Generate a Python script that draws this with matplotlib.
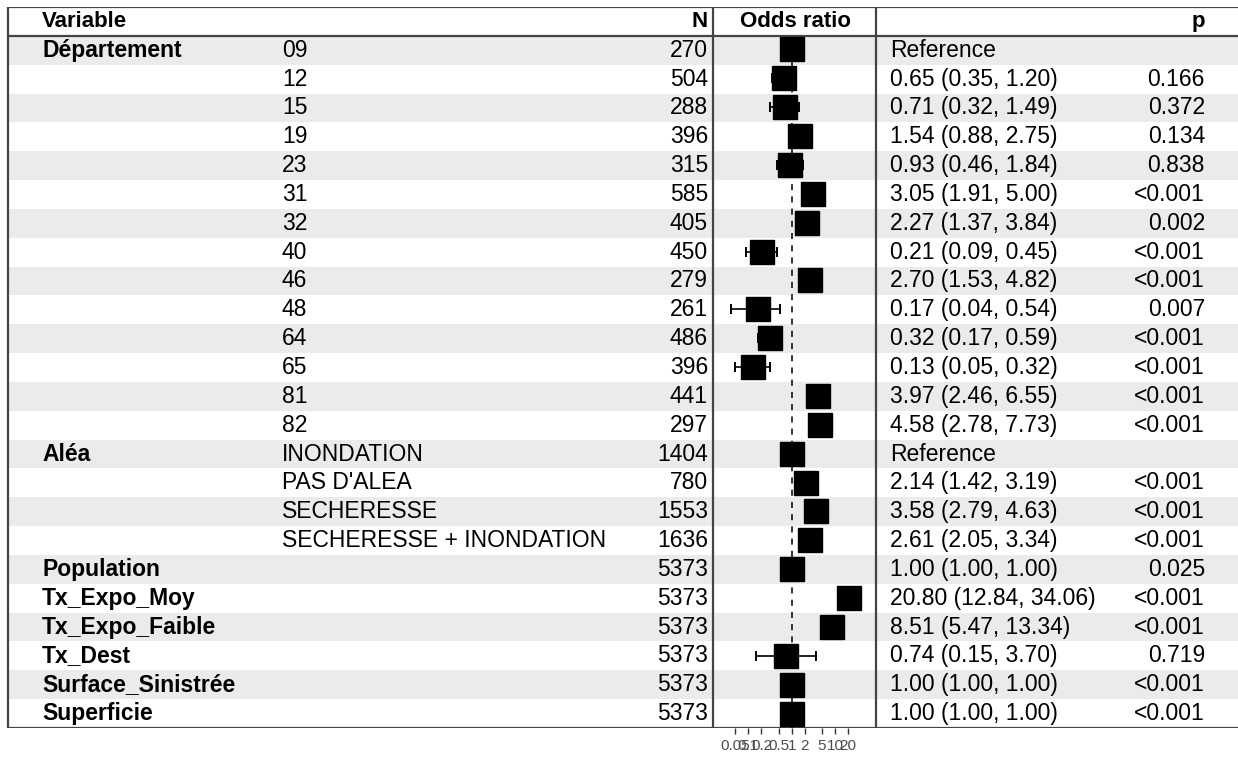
import matplotlib
matplotlib.use("Agg")
import matplotlib.pyplot as plt
import numpy as np

plt.rcParams["font.family"] = ["Liberation Sans", "DejaVu Sans"]

# data
variables = ["Département"] + [""] * 13 + ["Aléa", "", "", "",
             "Population", "Tx_Expo_Moy", "Tx_Expo_Faible", "Tx_Dest",
             "Surface_Sinistrée", "Superficie"]
levels = ["09", "12", "15", "19", "23", "31", "32", "40", "46", "48", "64", "65", "81", "82",
          "INONDATION", "PAS D'ALEA", "SECHERESSE", "SECHERESSE + INONDATION",
          "", "", "", "", "", ""]
n_obs = [270, 504, 288, 396, 315, 585, 405, 450, 279, 261, 486, 396, 441, 297,
         1404, 780, 1553, 1636, 5373, 5373, 5373, 5373, 5373, 5373]
odds = [1.0, 0.65, 0.71, 1.54, 0.93, 3.05, 2.27, 0.21, 2.70, 0.17, 0.32, 0.13, 3.97, 4.58,
        1.0, 2.14, 3.58, 2.61, 1.00, 20.80, 8.51, 0.74, 1.00, 1.00]
ci_low = [np.nan, 0.35, 0.32, 0.88, 0.46, 1.91, 1.37, 0.09, 1.53, 0.04, 0.17, 0.05, 2.46, 2.78,
          np.nan, 1.42, 2.79, 2.05, 1.00, 12.84, 5.47, 0.15, 1.00, 1.00]
ci_high = [np.nan, 1.20, 1.49, 2.75, 1.84, 5.00, 3.84, 0.45, 4.82, 0.54, 0.59, 0.32, 6.55, 7.73,
           np.nan, 3.19, 4.63, 3.34, 1.00, 34.06, 13.34, 3.70, 1.00, 1.00]
pvals = ["", "0.166", "0.372", "0.134", "0.838", "<0.001", "0.002", "<0.001", "<0.001", "0.007",
         "<0.001", "<0.001", "<0.001", "<0.001", "", "<0.001", "<0.001", "<0.001",
         "0.025", "<0.001", "<0.001", "0.719", "<0.001", "<0.001"]
ticks = [0.05, 0.1, 0.2, 0.5, 1, 2, 5, 10, 20]
tick_labels = ["0.05", "0.1", "0.2", "0.5", "1", "2", "5", "10", "20"]

W, H = 1238, 758
fig = plt.figure(figsize=(W / 100, H / 100), dpi=100)

nrow = len(levels)
top, bottom = 7, 728
ax = fig.add_axes([0, 1 - bottom / H, 1, (bottom - top) / H])
ax.set_xlim(0, W)
ax.set_ylim(nrow - 0.5, -1.5)
ax.axis("off")

for i in range(0, nrow, 2):
    ax.axhspan(i - 0.5, i + 0.5, xmin=8 / W, xmax=1, color="#EBEBEB", lw=0, zorder=0)

line_kw = dict(color="#444444", lw=1.6, zorder=3)
ax.hlines([-1.5, -0.5, nrow - 0.5], 8, W, **line_kw)
ax.vlines([8, 713, 876], -1.5, nrow - 0.5, **line_kw)

fs = 16.5
fb = 16.5
ax.text(42, -1, "Variable", fontsize=fb - 0.5, fontweight="bold", va="center")
ax.text(708, -1, "N", fontsize=fb - 0.5, fontweight="bold", va="center", ha="right")
ax.text(795, -1, "Odds ratio", fontsize=fb - 0.5, fontweight="bold", va="center", ha="center")
ax.text(1205, -1, "p", fontsize=fb - 0.5, fontweight="bold", va="center", ha="right")

for i in range(nrow):
    ax.text(42, i, variables[i], fontsize=fb, fontweight="bold", va="center")
    ax.text(282, i, levels[i], fontsize=fs, va="center")
    ax.text(708, i, str(n_obs[i]), fontsize=fs, va="center", ha="right")
    if np.isnan(ci_low[i]):
        or_txt = "Reference"
    else:
        or_txt = f"{odds[i]:.2f} ({ci_low[i]:.2f}, {ci_high[i]:.2f})"
    ax.text(890, i, or_txt, fontsize=fs, va="center")
    ax.text(1205, i, pvals[i], fontsize=fs, va="center", ha="right")

# forest panel
axf = fig.add_axes([713 / W, 1 - bottom / H, (876 - 713) / W, (bottom - 35) / H])
axf.patch.set_visible(False)
axf.set_xscale("log")
axf.set_xlim(0.0152, 88.5)
axf.set_ylim(nrow - 0.5, -0.5)
for s in axf.spines.values():
    s.set_visible(False)
axf.axvline(1, color="black", lw=1.1, ls=(0, (4, 4)), zorder=1)
ys = np.arange(nrow)
lo = np.array(ci_low)
hi = np.array(ci_high)
ok = ~np.isnan(lo)
axf.hlines(ys[ok], lo[ok], hi[ok], color="black", lw=1.2, zorder=2)
axf.plot(lo[ok], ys[ok], ls="none", marker="|", ms=7, mew=1.4, color="black", zorder=2)
axf.plot(hi[ok], ys[ok], ls="none", marker="|", ms=7, mew=1.4, color="black", zorder=2)
axf.plot(odds, ys, ls="none", marker="s", ms=17.5, color="black", zorder=3)
axf.set_yticks([])
axf.set_xticks(ticks)
axf.set_xticklabels(tick_labels)
axf.minorticks_off()
axf.tick_params(axis="x", length=4, width=1, color="#333333", labelsize=11,
                labelcolor="#4D4D4D", pad=4)

fig.savefig("out.png", dpi=100)
